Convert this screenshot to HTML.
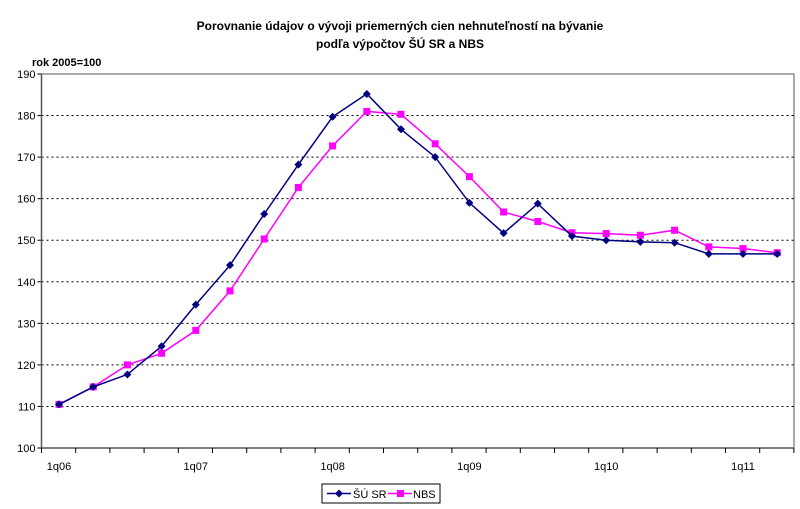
<!DOCTYPE html>
<html><head><meta charset="utf-8"><style>
body{margin:0;background:#fff;width:800px;height:509px;overflow:hidden}
svg{display:block;font-family:"Liberation Sans",Arial,sans-serif}
</style></head><body>
<svg id="s" width="800" height="509" xmlns="http://www.w3.org/2000/svg">
<rect width="800" height="509" fill="#fff"/>
<text x="400" y="30" text-anchor="middle" font-size="12" font-weight="bold">Porovnanie údajov o vývoji priemerných cien nehnuteľností na bývanie</text>
<text x="400" y="48" text-anchor="middle" font-size="12" font-weight="bold">podľa výpočtov ŠÚ SR a NBS</text>
<text x="32" y="66" font-size="11" font-weight="bold">rok 2005=100</text>
<g id="g"></g>
<rect x="322" y="484" width="118" height="19" fill="#fff" stroke="#000" stroke-width="1"/>
<line x1="327" y1="493.5" x2="351" y2="493.5" stroke="#000080" stroke-width="1.5"/>
<path d="M339 489.5L343 493.5L339 497.5L335 493.5Z" fill="#000080"/>
<text x="353" y="498" font-size="11">ŠÚ SR</text>
<line x1="388" y1="493.5" x2="412" y2="493.5" stroke="#ff00ff" stroke-width="1.5"/>
<rect x="397" y="490" width="7" height="7" fill="#ff00ff"/>
<text x="413" y="498" font-size="11">NBS</text>
</svg>
<script>
var g=document.getElementById('g'),h='';
var X0=41.5,X1=794,Y0=74,Y1=448;
function y(v){return Y1-(v-100)*(Y1-Y0)/90}
function x(i){return 59+i*34.2}
for(var v=100;v<=190;v+=10){var yy=y(v);
 if(v>100&&v<190)h+='<line x1="'+X0+'" y1="'+yy+'" x2="'+X1+'" y2="'+yy+'" stroke="#000" stroke-width="1" stroke-dasharray="2,3"/>';
 h+='<line x1="'+(X0-4)+'" y1="'+yy+'" x2="'+X0+'" y2="'+yy+'" stroke="#000"/>';
 h+='<text x="'+(X0-6)+'" y="'+(yy+4)+'" text-anchor="end" font-size="11">'+v+'</text>';}
h+='<line x1="'+X0+'" y1="'+Y0+'" x2="'+X1+'" y2="'+Y0+'" stroke="#555"/>';
h+='<line x1="'+X1+'" y1="'+Y0+'" x2="'+X1+'" y2="'+Y1+'" stroke="#555"/>';
h+='<line x1="'+X0+'" y1="'+Y0+'" x2="'+X0+'" y2="'+Y1+'" stroke="#555" stroke-width="1.5"/>';
h+='<line x1="'+X0+'" y1="'+Y1+'" x2="'+X1+'" y2="'+Y1+'" stroke="#555" stroke-width="1.5"/>';
for(var i=0;i<=22;i++){var xx=X0+i*34.2;h+='<line x1="'+xx+'" y1="'+Y1+'" x2="'+xx+'" y2="'+(Y1+5)+'" stroke="#000"/>';}
var L=['1q06','1q07','1q08','1q09','1q10','1q11'];
for(var k=0;k<6;k++)h+='<text x="'+x(k*4)+'" y="'+(Y1+22)+'" text-anchor="middle" font-size="11">'+L[k]+'</text>';
var A=[110.5,114.7,117.7,124.5,134.5,144,156.3,168.2,179.7,185.2,176.7,170,159,151.7,158.8,151,150,149.6,149.4,146.7,146.7,146.7];
var B=[110.5,114.7,120,122.8,128.3,137.8,150.3,162.7,172.7,181,180.3,173.2,165.3,156.8,154.5,151.8,151.6,151.2,152.4,148.4,148,147];
function pts(D){return D.map(function(v,i){return x(i).toFixed(1)+','+y(v).toFixed(1)}).join(' ')}
h+='<polyline points="'+pts(B)+'" fill="none" stroke="#ff00ff" stroke-width="1.5"/>';
B.forEach(function(v,i){h+='<rect x="'+(x(i)-3.5)+'" y="'+(y(v)-3.5)+'" width="7" height="7" fill="#ff00ff"/>'});
h+='<polyline points="'+pts(A)+'" fill="none" stroke="#000080" stroke-width="1.5"/>';
A.forEach(function(v,i){var a=x(i),b=y(v);h+='<path d="M'+a+' '+(b-4)+'L'+(a+4)+' '+b+'L'+a+' '+(b+4)+'L'+(a-4)+' '+b+'Z" fill="#000080"/>'});
g.innerHTML=h;
</script>
</body></html>
